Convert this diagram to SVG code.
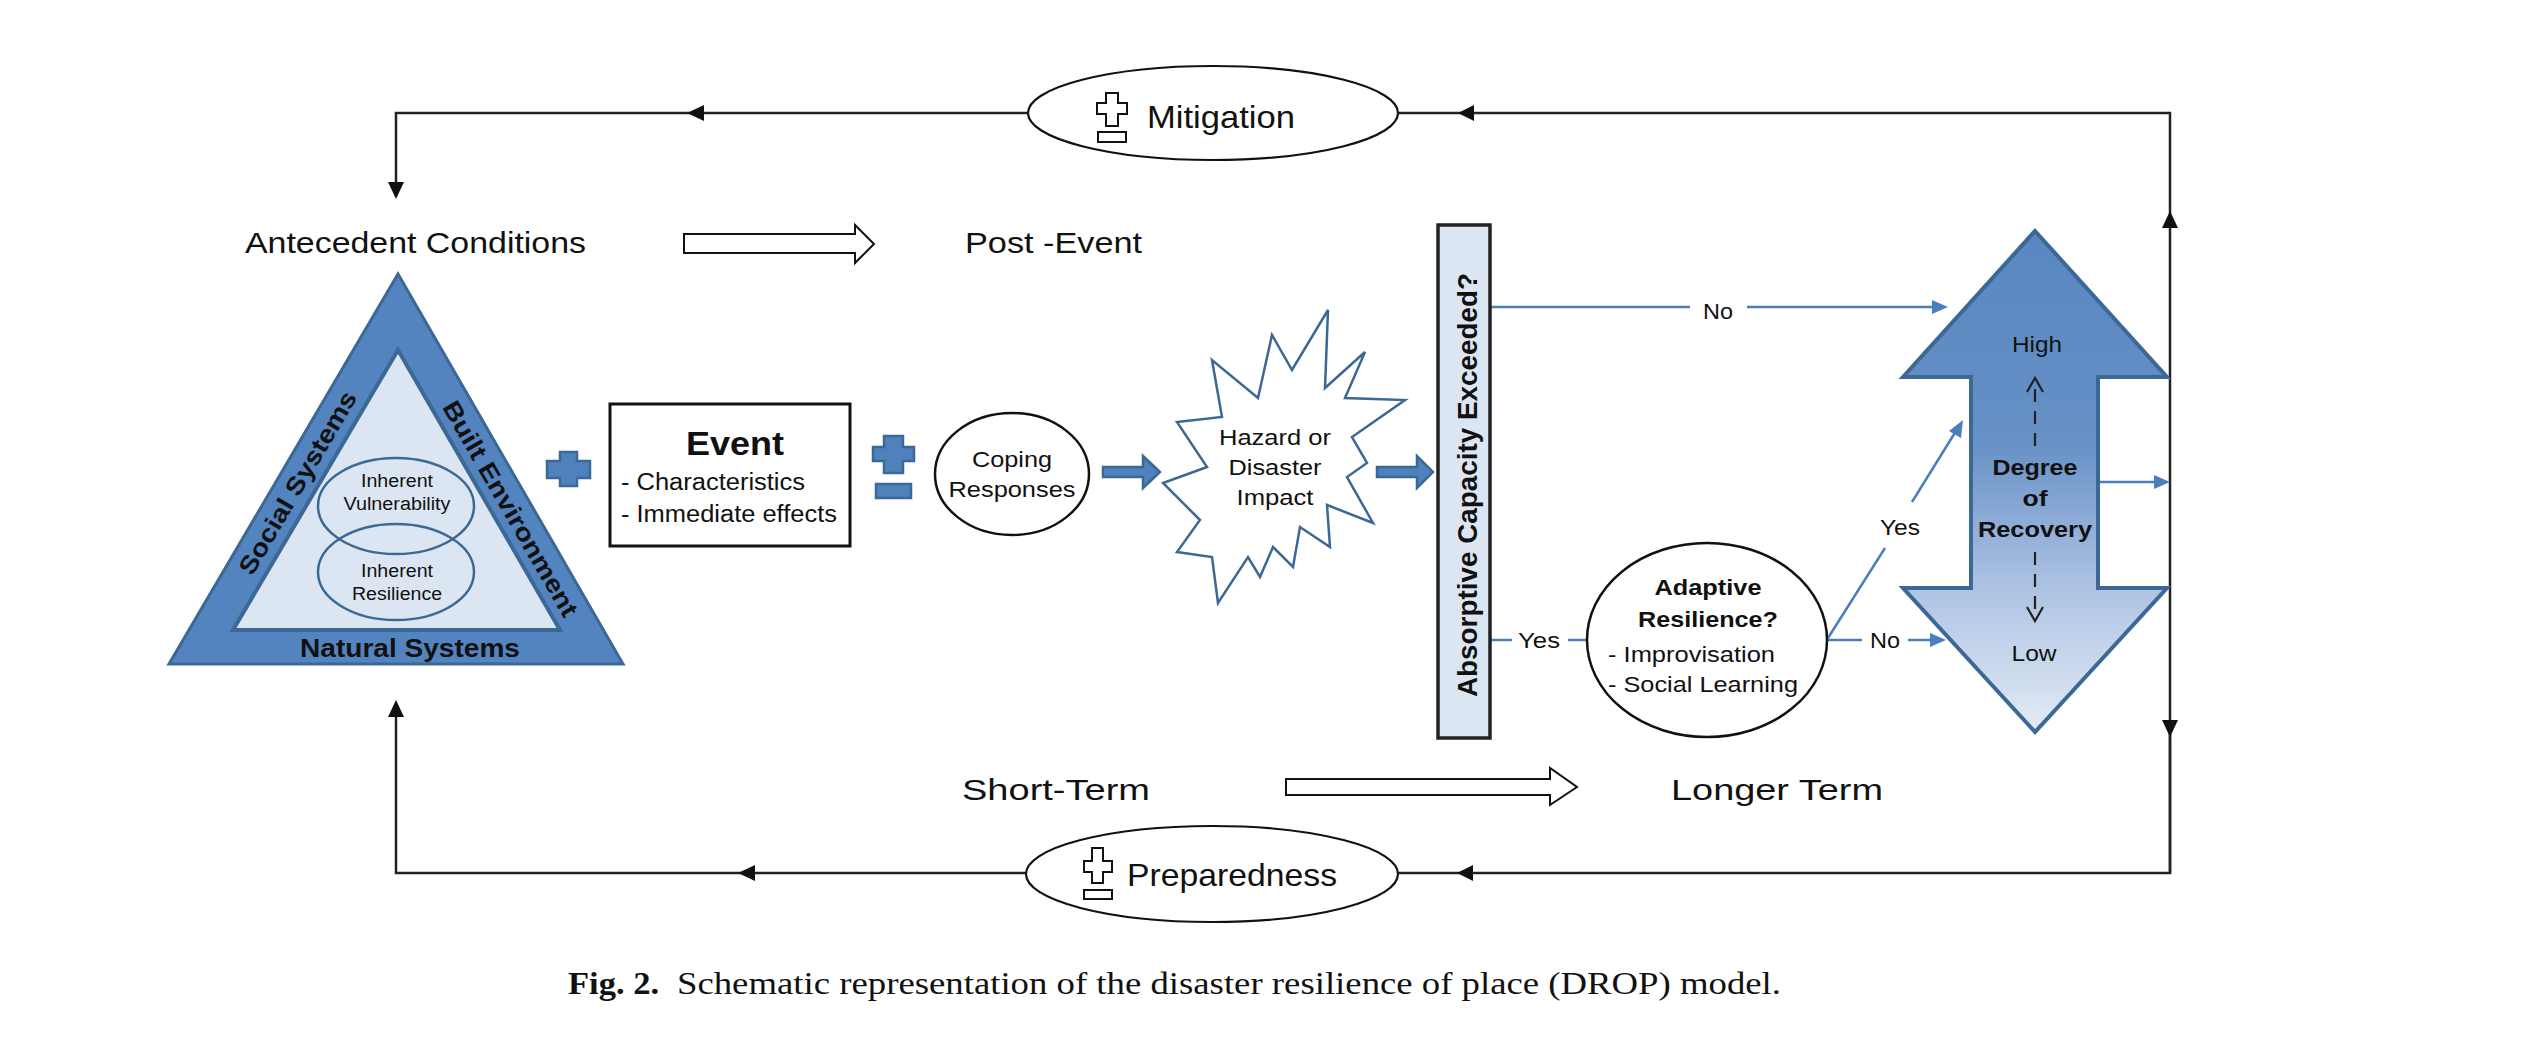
<svg xmlns="http://www.w3.org/2000/svg" width="2523" height="1050" viewBox="0 0 2523 1050">
<defs>
<style>
.t{font-family:"Liberation Sans",Arial,sans-serif;fill:#111;}
.b{font-weight:bold;}
.c{text-anchor:middle;}
.blk{stroke:#222;stroke-width:2.5;fill:none;}
.ah{fill:#111;stroke:none;}
.bl{stroke:#4A7EBF;stroke-width:2.5;fill:none;}
.bah{fill:#4A7EBF;stroke:none;}
.bluefill{fill:#4F81BD;stroke:#3B6894;stroke-width:2.5;}
.outl{fill:#fff;stroke:#111;stroke-width:2;}
.cap{font-family:"Liberation Serif","Times New Roman",serif;fill:#111;}
</style>
<linearGradient id="rec" gradientUnits="userSpaceOnUse" x1="0" y1="231" x2="0" y2="732">
<stop offset="0" stop-color="#5987C0"/>
<stop offset="0.42" stop-color="#6690C6"/>
<stop offset="0.72" stop-color="#AFC4E4"/>
<stop offset="1" stop-color="#E3EBF6"/>
</linearGradient>
</defs>
<rect width="2523" height="1050" fill="#fff"/>

<g id="connectors">
<!-- top feedback loop -->
<polyline class="blk" points="2170,873 2170,113 396,113 396,184"/>
<polygon class="ah" points="396,199 388,182 404,182"/>
<polygon class="ah" points="687,113 704,105 704,121"/>
<polygon class="ah" points="1458,113 1474,105 1474,121"/>
<polygon class="ah" points="2170,211 2162,228 2178,228"/>
<!-- bottom feedback loop -->
<polyline class="blk" points="2170,720 2170,873 396,873 396,716"/>
<polygon class="ah" points="396,700 388,717 404,717"/>
<polygon class="ah" points="738,873 755,865 755,881"/>
<polygon class="ah" points="1457,873 1473,865 1473,881"/>
<polygon class="ah" points="2170,737 2162,720 2178,720"/>
<!-- hollow time arrows -->
<polygon class="outl" points="684,234 855,234 855,225 874,244 855,263 855,253 684,253"/>
<polygon class="outl" points="1286,779 1550,779 1550,768 1577,787 1550,805 1550,795 1286,795"/>
<!-- thick blue arrows -->
<polygon class="bluefill" points="1103,467 1143,467 1143,456 1160,472 1143,488 1143,477 1103,477"/>
<polygon class="bluefill" points="1377,467 1417,467 1417,456 1433,472 1417,488 1417,477 1377,477"/>
<!-- blue decision connectors -->
<line class="bl" x1="1490" y1="307" x2="1690" y2="307"/>
<line class="bl" x1="1747" y1="307" x2="1934" y2="307"/>
<polygon class="bah" points="1948,307 1932,300 1932,314"/>
<line class="bl" x1="1490" y1="640" x2="1512" y2="640"/>
<line class="bl" x1="1568" y1="640" x2="1587" y2="640"/>
<line class="bl" x1="1828" y1="638" x2="1885" y2="548"/>
<line class="bl" x1="1912" y1="502" x2="1956" y2="431"/>
<polygon class="bah" points="1963,420 1949,431 1961,438"/>
<line class="bl" x1="1828" y1="640" x2="1862" y2="640"/>
<line class="bl" x1="1908" y1="640" x2="1932" y2="640"/>
<polygon class="bah" points="1946,640 1930,633 1930,647"/>
<line class="bl" x1="2100" y1="482" x2="2156" y2="482"/>
<polygon class="bah" points="2170,482 2154,475 2154,489"/>
</g>

<g id="antecedent">
<polygon points="398,274 623,664 169,664" fill="#5384BF" stroke="#3B6894" stroke-width="3"/>
<polygon points="398,350 560,630 233,630" fill="#DCE6F2" stroke="#3B6894" stroke-width="4"/>
<ellipse cx="396" cy="506" rx="78" ry="48" fill="none" stroke="#3B6894" stroke-width="2.5"/>
<ellipse cx="396" cy="572" rx="78" ry="48" fill="none" stroke="#3B6894" stroke-width="2.5"/>
<text class="t c" x="397" y="487" font-size="18" textLength="72" lengthAdjust="spacingAndGlyphs">Inherent</text>
<text class="t c" x="397" y="510" font-size="18" textLength="107" lengthAdjust="spacingAndGlyphs">Vulnerability</text>
<text class="t c" x="397" y="577" font-size="18" textLength="72" lengthAdjust="spacingAndGlyphs">Inherent</text>
<text class="t c" x="397" y="600" font-size="18" textLength="90" lengthAdjust="spacingAndGlyphs">Resilience</text>
<text class="t b c" transform="translate(305,487) rotate(-59.6)" font-size="25" textLength="208" lengthAdjust="spacingAndGlyphs">Social Systems</text>
<text class="t b c" transform="translate(503,513) rotate(60)" font-size="25" textLength="245" lengthAdjust="spacingAndGlyphs">Built Environment</text>
<text class="t b c" x="410" y="657" font-size="25" textLength="220" lengthAdjust="spacingAndGlyphs">Natural Systems</text>
<text class="t" x="245" y="253" font-size="29" textLength="341" lengthAdjust="spacingAndGlyphs">Antecedent Conditions</text>
</g>

<g id="plus-left">
<polygon class="bluefill" points="560,452 577,452 577,461 590,461 590,478 577,478 577,486 560,486 560,478 547,478 547,461 560,461"/>
</g>

<g id="event">
<rect x="610" y="404" width="240" height="142" fill="#fff" stroke="#111" stroke-width="3"/>
<text class="t b c" x="735" y="455" font-size="33" textLength="98" lengthAdjust="spacingAndGlyphs">Event</text>
<text class="t" x="621" y="490" font-size="23" textLength="184" lengthAdjust="spacingAndGlyphs">- Characteristics</text>
<text class="t" x="621" y="522" font-size="23" textLength="216" lengthAdjust="spacingAndGlyphs">- Immediate effects</text>
</g>

<g id="plus-minus">
<polygon class="bluefill" points="884,436 903,436 903,447 914,447 914,461 903,461 903,473 884,473 884,461 873,461 873,447 884,447"/>
<rect class="bluefill" x="876" y="484" width="35" height="14"/>
</g>

<g id="coping">
<ellipse cx="1012" cy="474" rx="77" ry="61" fill="#fff" stroke="#111" stroke-width="2.5"/>
<text class="t c" x="1012" y="467" font-size="22" textLength="80" lengthAdjust="spacingAndGlyphs">Coping</text>
<text class="t c" x="1012" y="497" font-size="22" textLength="127" lengthAdjust="spacingAndGlyphs">Responses</text>
</g>

<g id="hazard">
<polygon points="1328,310 1325,388 1365,352 1345,398 1405,400 1352,437 1367,463 1347,477 1373,523 1327,505 1330,547 1300,527 1293,567 1273,547 1260,577 1248,557 1218,603 1212,557 1177,552 1200,520 1163,483 1207,467 1177,422 1222,417 1212,360 1258,398 1272,335 1292,370" fill="#fff" stroke="#3B6894" stroke-width="2.5" stroke-linejoin="miter"/>
<text class="t c" x="1275" y="445" font-size="22" textLength="112" lengthAdjust="spacingAndGlyphs">Hazard or</text>
<text class="t c" x="1275" y="475" font-size="22" textLength="93" lengthAdjust="spacingAndGlyphs">Disaster</text>
<text class="t c" x="1275" y="505" font-size="22" textLength="77" lengthAdjust="spacingAndGlyphs">Impact</text>
</g>

<g id="absorptive">
<rect x="1438" y="225" width="52" height="513" fill="#DCE6F2" stroke="#222" stroke-width="3.5"/>
<text class="t b" transform="translate(1477,697) rotate(-90)" font-size="28" textLength="424" lengthAdjust="spacingAndGlyphs">Absorptive Capacity Exceeded?</text>
</g>

<g id="labels">
<text class="t c" x="1718" y="319" font-size="22" textLength="30" lengthAdjust="spacingAndGlyphs">No</text>
<text class="t c" x="1539" y="648" font-size="22" textLength="42" lengthAdjust="spacingAndGlyphs">Yes</text>
<text class="t c" x="1900" y="535" font-size="22" textLength="40" lengthAdjust="spacingAndGlyphs">Yes</text>
<text class="t c" x="1885" y="648" font-size="22" textLength="30" lengthAdjust="spacingAndGlyphs">No</text>
</g>

<g id="adaptive">
<ellipse cx="1707" cy="640" rx="120" ry="97" fill="#fff" stroke="#111" stroke-width="2.5"/>
<text class="t b c" x="1708" y="595" font-size="22" textLength="107" lengthAdjust="spacingAndGlyphs">Adaptive</text>
<text class="t b c" x="1708" y="627" font-size="22" textLength="140" lengthAdjust="spacingAndGlyphs">Resilience?</text>
<text class="t" x="1608" y="662" font-size="22" textLength="167" lengthAdjust="spacingAndGlyphs">- Improvisation</text>
<text class="t" x="1608" y="692" font-size="22" textLength="190" lengthAdjust="spacingAndGlyphs">- Social Learning</text>
</g>

<g id="recovery">
<polygon points="2035,231 2167,377 2098,377 2098,588 2167,588 2035,732 1903,588 1971,588 1971,377 1903,377" fill="url(#rec)" stroke="#3B6894" stroke-width="4" stroke-linejoin="miter"/>
<text class="t c" x="2037" y="352" font-size="22" textLength="50" lengthAdjust="spacingAndGlyphs">High</text>
<line x1="2035" y1="446" x2="2035" y2="381" stroke="#222" stroke-width="2.2" stroke-dasharray="13,9"/>
<polyline points="2027,392 2035,378 2043,392" fill="none" stroke="#222" stroke-width="2.2"/>
<text class="t b c" x="2035" y="475" font-size="22" textLength="85" lengthAdjust="spacingAndGlyphs">Degree</text>
<text class="t b c" x="2035" y="506" font-size="22" textLength="25" lengthAdjust="spacingAndGlyphs">of</text>
<text class="t b c" x="2035" y="537" font-size="22" textLength="114" lengthAdjust="spacingAndGlyphs">Recovery</text>
<line x1="2035" y1="552" x2="2035" y2="618" stroke="#222" stroke-width="2.2" stroke-dasharray="13,9"/>
<polyline points="2027,607 2035,621 2043,607" fill="none" stroke="#222" stroke-width="2.2"/>
<text class="t c" x="2034" y="661" font-size="22" textLength="45" lengthAdjust="spacingAndGlyphs">Low</text>
</g>

<g id="mitigation">
<ellipse cx="1213" cy="113" rx="185" ry="47" fill="#fff" stroke="#111" stroke-width="2.2"/>
<polygon points="1106,93 1118,93 1118,103 1127,103 1127,114 1118,114 1118,126 1106,126 1106,114 1097,114 1097,103 1106,103" fill="#fff" stroke="#111" stroke-width="2"/>
<rect x="1098" y="132" width="28" height="10" fill="#fff" stroke="#111" stroke-width="2"/>
<text class="t" x="1147" y="128" font-size="32" textLength="148" lengthAdjust="spacingAndGlyphs">Mitigation</text>
</g>

<g id="preparedness">
<ellipse cx="1212" cy="874" rx="186" ry="48" fill="#fff" stroke="#111" stroke-width="2.2"/>
<polygon points="1092,848 1103,848 1103,861 1112,861 1112,872 1103,872 1103,883 1092,883 1092,872 1084,872 1084,861 1092,861" fill="#fff" stroke="#111" stroke-width="2"/>
<rect x="1084" y="890" width="28" height="9" fill="#fff" stroke="#111" stroke-width="2"/>
<text class="t" x="1127" y="886" font-size="32" textLength="210" lengthAdjust="spacingAndGlyphs">Preparedness</text>
</g>

<g id="time-labels">
<text class="t" x="965" y="253" font-size="30" textLength="177" lengthAdjust="spacingAndGlyphs">Post -Event</text>
<text class="t" x="962" y="800" font-size="29" textLength="188" lengthAdjust="spacingAndGlyphs">Short-Term</text>
<text class="t" x="1671" y="800" font-size="29" textLength="212" lengthAdjust="spacingAndGlyphs">Longer Term</text>
</g>

<g id="caption">
<text class="cap" x="568" y="994" font-size="32" font-weight="bold" textLength="91" lengthAdjust="spacingAndGlyphs">Fig. 2.</text>
<text class="cap" x="677" y="994" font-size="32" textLength="1104" lengthAdjust="spacingAndGlyphs">Schematic representation of the disaster resilience of place (DROP) model.</text>
</g>
</svg>
